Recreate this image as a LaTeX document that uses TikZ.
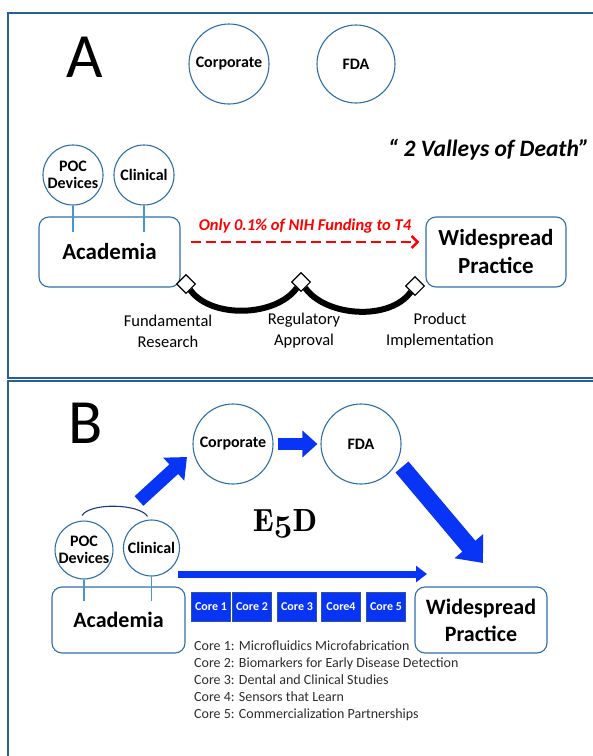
\documentclass[tikz,border=0pt]{standalone}
\usepackage[no-math]{fontspec}
\usepackage{graphicx}
\setmainfont{Carlito}
\usetikzlibrary{arrows.meta,shapes.geometric}
\definecolor{edgeblue}{RGB}{46,110,168}
\definecolor{stemblue}{RGB}{70,150,210}
\definecolor{frameblue}{RGB}{40,96,150}
\definecolor{fatblue}{RGB}{8,52,245}
\definecolor{coreedge}{RGB}{47,85,151}
\definecolor{arcnavy}{RGB}{30,55,130}
\definecolor{listgray}{RGB}{45,45,45}
\def\oldfive{\scalebox{1.3}{\usefont{OML}{cmm}{b}{it}5}}
\tikzset{
  panel/.style={draw=frameblue, line width=2pt},
  bigcirc/.style={circle, draw=edgeblue, line width=1.1pt, minimum size=80pt, inner sep=0pt, font=\fontsize{16}{18}\selectfont\bfseries},
  smallcirc/.style={circle, draw=edgeblue, line width=1.1pt, minimum size=60pt, inner sep=0pt, align=center, font=\fontsize{16}{17.5}\selectfont\bfseries},
  roundbox/.style={draw=edgeblue, line width=1.1pt, rounded corners=10pt, align=center, inner sep=0pt, font=\fontsize{23}{28}\selectfont\bfseries},
  stem/.style={draw=stemblue, line width=1.6pt},
  bigletter/.style={font=\fontsize{63}{63}\selectfont},
  stagelabel/.style={align=center, font=\fontsize{16.5}{21}\selectfont},
  valley/.style={line width=6pt},
  joint/.style={diamond, draw, fill=white, line width=1.1pt, minimum size=19pt, inner sep=0pt},
  redflow/.style={draw=red, line width=2.5pt, dash pattern=on 10pt off 5pt, -{Straight Barb[length=6pt, width=12pt]}},
  fatarrow/.style n args={3}{draw=fatblue, line width=#1, -{Triangle[length=#2, width=#3]}},
  corebox/.style={fill=fatblue, draw=coreedge, line width=0.8pt, minimum width=39pt, minimum height=29pt, inner sep=0pt, text=white, font=\fontsize{12}{13}\selectfont\bfseries},
  arcline/.style={draw=arcnavy, line width=1.1pt}
}
\begin{document}
\begin{tikzpicture}[x=1pt, y=-1pt]
  \useasboundingbox (0,0) rectangle (593,756);
  \clip (0,0) rectangle (593,756);

  %%%%% PANEL A %%%%%
  \draw[panel] (8,13) rectangle (640,378);
  \node[bigletter] (labA) at (85,57) {A};
  \node[bigcirc] (corpA) at (229,64) {Corporate};
  \node[bigcirc, minimum size=78pt] (fdaA) at (356,64) {FDA};
  \node[anchor=west, inner sep=0pt, font=\fontsize{23.5}{26}\selectfont\bfseries\itshape] (valleys) at (388,150) {“ 2 Valleys of Death”};

  \node[smallcirc] (pocA) at (73,175) {POC\\Devices};
  \node[smallcirc] (clinA) at (144,175) {Clinical};
  \node[roundbox, minimum width=141pt, minimum height=70pt] (acadA) at (109.5,252) {Academia};
  \node[roundbox, minimum width=140pt, minimum height=70pt] (wideA) at (496,252) {Widespread\\Practice};
  \draw[stem] (pocA.south) -- (pocA.south |- 0,232);
  \draw[stem] (clinA.south) -- (clinA.south |- 0,232);

  \draw[redflow] ([shift={(10,-10)}]acadA.east) -- ([shift={(-6,-10)}]wideA.west)
    node[midway, above=4pt, text=red, font=\fontsize{16.5}{18}\selectfont\bfseries\itshape] {Only 0.1\% of NIH Funding to T4};

  \node[joint] (d1) at (186,284) {};
  \node[joint] (d2) at (301,282) {};
  \node[joint] (d3) at (415,286) {};
  \draw[valley] (d1) .. controls +(25,35) and +(-25,35) .. (d2);
  \draw[valley] (d2) .. controls +(25,35) and +(-25,35) .. (d3);

  \node[stagelabel] (fund) at (168,331) {Fundamental\\Research};
  \node[stagelabel] (regu) at (304,331) {Regulatory\\Approval};
  \node[stagelabel] (prod) at (440,331) {Product\\Implementation};

  %%%%% PANEL B %%%%%
  \draw[panel] (8,381) rectangle (640,800);
  \node[bigletter] (labB) at (86,423) {B};
  \node[bigcirc] (corpB) at (233,444) {Corporate};
  \node[bigcirc] (fdaB) at (361,444) {FDA};
  \node[font=\fontfamily{lmr}\fontsize{32}{34}\selectfont\bfseries] (e5d) at (285,524) {E\oldfive D};

  \node[smallcirc, minimum size=56pt] (pocB) at (84,550) {POC\\Devices};
  \node[smallcirc, minimum size=56pt] (clinB) at (151.5,548) {Clinical};
  \draw[arcline] ([shift={(-2,-5)}]pocB.north) .. controls +(8,-13) and +(-8,-13) .. ([shift={(-4,-3)}]clinB.north);
  \node[roundbox, minimum width=133pt, minimum height=66pt, font=\fontsize{22}{27}\selectfont\bfseries] (acadB) at (118.5,620) {Academia};
  \node[roundbox, minimum width=132pt, minimum height=66pt, font=\fontsize{22}{27}\selectfont\bfseries] (wideB) at (481,620) {Widespread\\Practice};
  \draw[stem] (pocB.south) -- (pocB.south |- 0,601);
  \draw[stem] (clinB.south) -- (clinB.south |- 0,601);

  \coordinate (riseTail) at (139,501);
  \coordinate (riseTip) at (187,457);
  \draw[fatarrow={13pt}{18pt}{30pt}] (riseTail) -- (riseTip);
  \draw[fatarrow={12pt}{15pt}{26pt}, shorten <=4pt, shorten >=3pt] (corpB) -- (fdaB);
  \coordinate (dropTail) at (402,467);
  \coordinate (dropTip) at (483,563);
  \draw[fatarrow={17pt}{22pt}{36pt}] (dropTail) -- (dropTip);
  \coordinate (trackTail) at (178,574);
  \coordinate (trackTip) at (427,574);
  \draw[fatarrow={7pt}{11pt}{16pt}] (trackTail) -- (trackTip);

  \node[corebox] (core1) at (211,606.5) {Core 1};
  \node[corebox] (core2) at (252,606.5) {Core 2};
  \node[corebox] (core3) at (297,606.5) {Core 3};
  \node[corebox] (core4) at (341,606.5) {Core4};
  \node[corebox] (core5) at (386,606.5) {Core 5};

  \node[anchor=north west, align=left, inner sep=0pt, text=listgray, font=\fontsize{14}{17}\selectfont] (corenotes) at (194,641)
    {Core 1: Microfluidics Microfabrication\\
     Core 2: Biomarkers for Early Disease Detection\\
     Core 3: Dental and Clinical Studies\\
     Core 4: Sensors that Learn\\
     Core 5: Commercialization Partnerships};
\end{tikzpicture}
\end{document}
